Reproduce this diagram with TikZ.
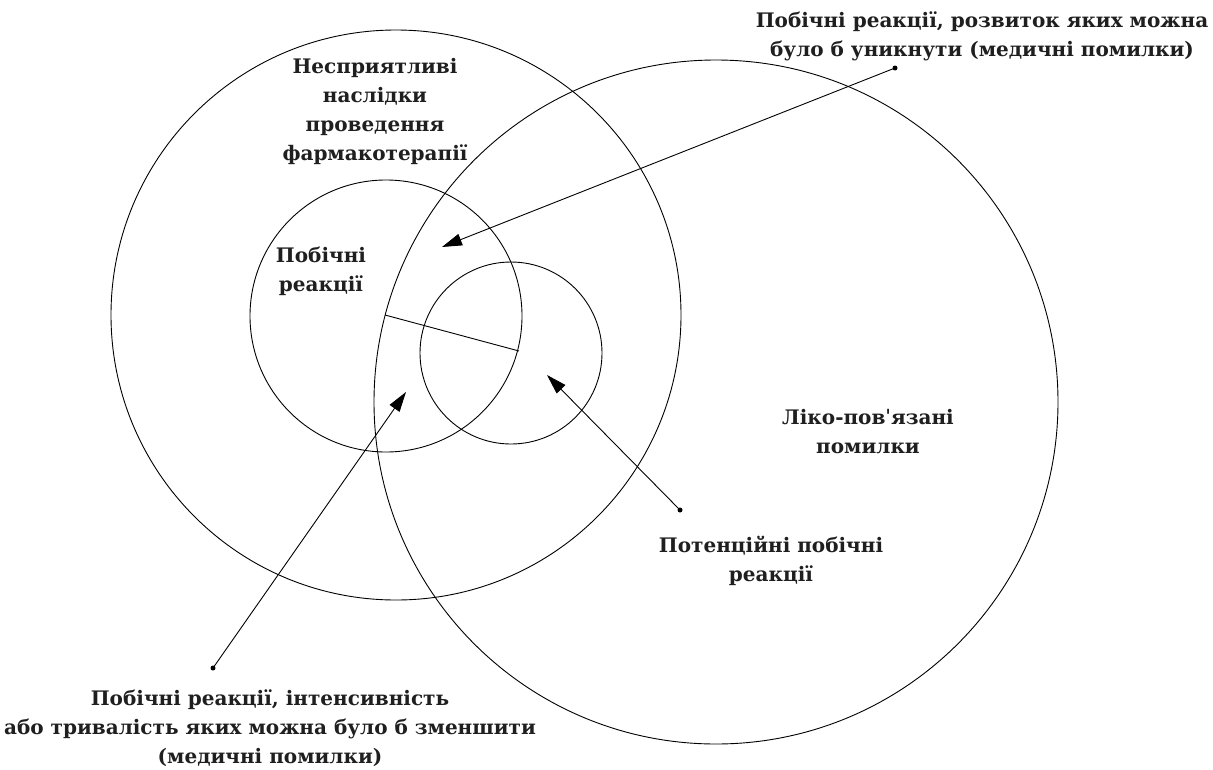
\documentclass[tikz,border=0pt]{standalone}
\usepackage{fontspec}
\setmainfont{DejaVu Serif}
\usetikzlibrary{arrows.meta}
\begin{document}
\begin{tikzpicture}[x=1pt,y=-1pt,
  circ/.style={draw, circle, line width=0.9pt, inner sep=0pt},
  lbl/.style={font=\bfseries\fontsize{20}{29}\selectfont, align=center, text=black!88, inner sep=0pt},
  ptr/.style={line width=0.9pt, -{Triangle[length=20pt,width=12pt]}},
  dotmark/.style={circle, fill, inner sep=0pt, minimum size=5pt}]
\useasboundingbox[fill=white] (0,0) rectangle (1213,769);
% circles
\node[circ, minimum size=570pt] (adv) at (396,315) {};
\node[circ, minimum size=684pt] (med) at (716,402) {};
\node[circ, minimum size=272pt] (side) at (386,316) {};
\node[circ, minimum size=182pt] (pot) at (511,353) {};
% divider
\coordinate (dvA) at (385,315);
\coordinate (dvB) at (519,351);
\draw[line width=0.9pt] (dvA) -- (dvB);
% labels
\node[lbl] (tAdv) at (375,111) {Несприятливі\\наслідки\\проведення\\фармакотерапії};
\node[lbl] (tSide) at (321,271) {Побічні\\реакції};
\node[lbl] (tAvoid) at (982,36) {Побічні реакції, розвиток яких можна\\було б уникнути (медичні помилки)};
\node[lbl] (tReduce) at (270,728) {Побічні реакції, інтенсивність\\або тривалість яких можна було б зменшити\\(медичні помилки)};
\node[lbl] (tMed) at (868,432) {Ліко-повˈязані\\помилки};
\node[lbl] (tPot) at (771,561) {Потенційні побічні\\реакції};
% pointers
\node[dotmark] (d1) at (895,68) {};
\node[dotmark] (d2) at (213,668) {};
\node[dotmark] (d3) at (680,510) {};
\coordinate (a1) at (442,247);
\coordinate (a2) at (406,392);
\coordinate (a3) at (547,375);
\draw[ptr] (d1.center) -- (a1);
\draw[ptr] (d2.center) -- (a2);
\draw[ptr] (d3.center) -- (a3);
\end{tikzpicture}
\end{document}
